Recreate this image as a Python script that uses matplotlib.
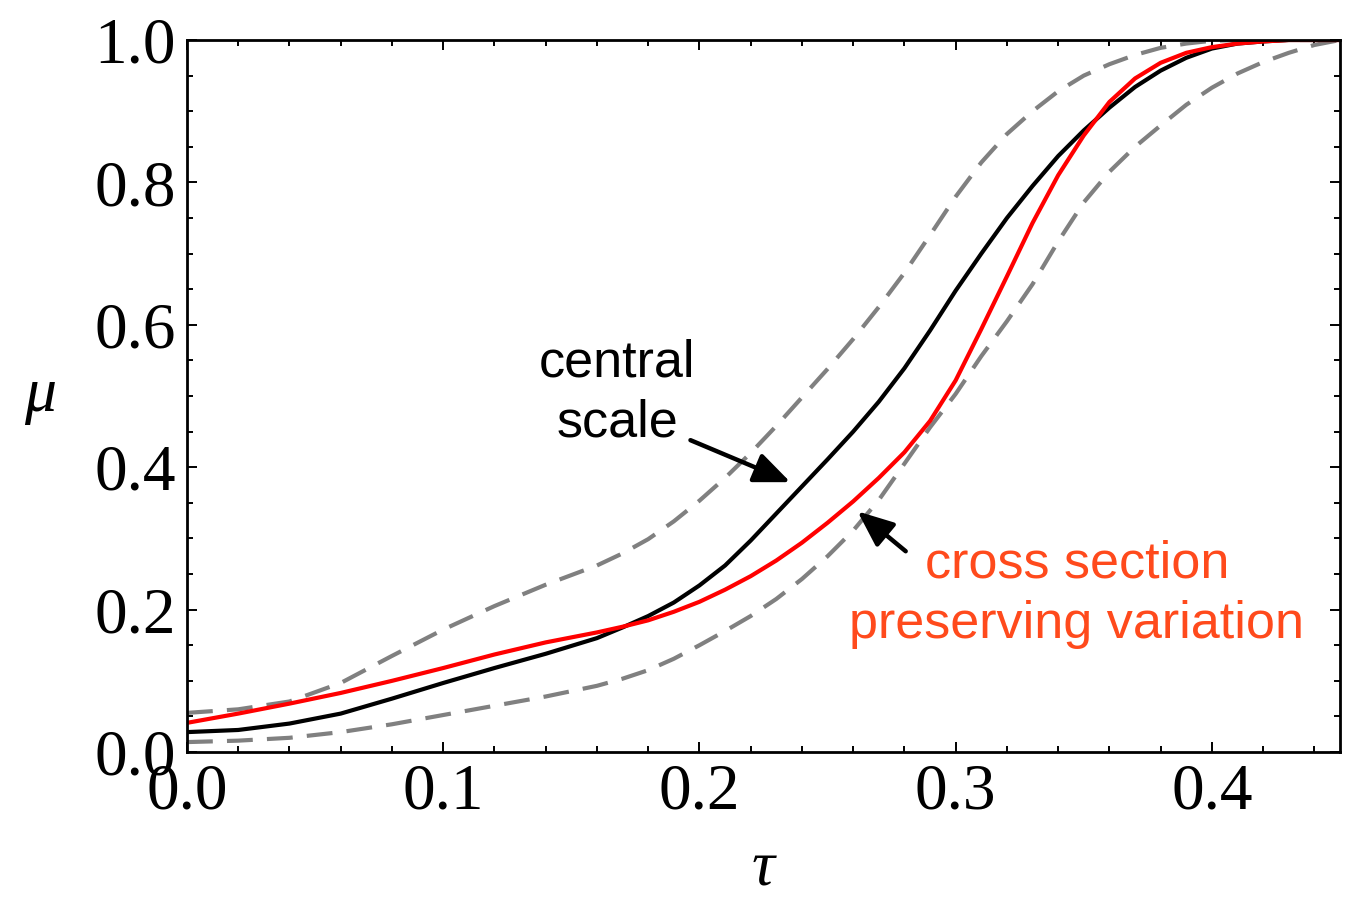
import matplotlib
matplotlib.use("Agg")
import matplotlib.pyplot as plt
from matplotlib.ticker import MultipleLocator

# curve samples mu(tau)
tau = [0.00, 0.02, 0.04, 0.06, 0.08, 0.10, 0.12, 0.14, 0.16, 0.17,
       0.18, 0.19, 0.20, 0.21, 0.22, 0.23, 0.24, 0.25, 0.26, 0.27,
       0.28, 0.29, 0.30, 0.31, 0.32, 0.33, 0.34, 0.35, 0.36, 0.37,
       0.38, 0.39, 0.40, 0.41, 0.42, 0.43, 0.44, 0.45]

mu_central = [0.028, 0.031, 0.040, 0.054, 0.075, 0.097, 0.118, 0.138, 0.160, 0.175,
              0.191, 0.210, 0.234, 0.262, 0.297, 0.335, 0.373, 0.411, 0.450, 0.492,
              0.539, 0.592, 0.648, 0.700, 0.750, 0.795, 0.837, 0.873, 0.905, 0.934,
              0.957, 0.975, 0.988, 0.995, 0.998, 1.000, 1.000, 1.000]

mu_xsec = [0.041, 0.054, 0.068, 0.083, 0.100, 0.118, 0.137, 0.154, 0.168, 0.176,
           0.185, 0.197, 0.211, 0.228, 0.247, 0.269, 0.294, 0.322, 0.352, 0.385,
           0.421, 0.465, 0.522, 0.594, 0.668, 0.743, 0.810, 0.866, 0.913, 0.946,
           0.968, 0.982, 0.990, 0.995, 0.998, 1.000, 1.000, 1.000]

mu_upper = [0.055, 0.060, 0.071, 0.097, 0.135, 0.172, 0.205, 0.235, 0.262, 0.279,
            0.299, 0.324, 0.353, 0.385, 0.420, 0.458, 0.498, 0.538, 0.580, 0.625,
            0.673, 0.726, 0.780, 0.828, 0.868, 0.900, 0.928, 0.950, 0.966, 0.979,
            0.989, 0.995, 0.999, 1.000, 1.000, 1.000, 1.000, 1.000]

mu_lower = [0.014, 0.016, 0.020, 0.028, 0.039, 0.052, 0.065, 0.078, 0.093, 0.103,
            0.115, 0.131, 0.150, 0.170, 0.191, 0.215, 0.243, 0.275, 0.311, 0.354,
            0.405, 0.456, 0.503, 0.556, 0.605, 0.657, 0.717, 0.772, 0.815, 0.850,
            0.880, 0.909, 0.933, 0.953, 0.969, 0.982, 0.993, 1.000]

serif = "Liberation Serif"
sans = "Liberation Sans"
orange = "#ff4a1c"

fig = plt.figure(figsize=(13.53, 8.97), dpi=100)
ax = fig.add_axes([0.1382, 0.1616, 0.8522, 0.7938])

gray_kw = dict(color="#808080", lw=3.0, dashes=(6.2, 3.4), dash_capstyle="butt")
ax.plot(tau, mu_upper, **gray_kw)
ax.plot(tau, mu_lower, **gray_kw)
ax.plot(tau, mu_central, color="black", lw=3.0, solid_joinstyle="round")
ax.plot(tau, mu_xsec, color="#ff0000", lw=3.0, solid_joinstyle="round")

ax.set_xlim(0, 0.45)
ax.set_ylim(0, 1.0)

# frame ticks on all sides, pointing in
ax.xaxis.set_major_locator(MultipleLocator(0.1))
ax.xaxis.set_minor_locator(MultipleLocator(0.02))
ax.yaxis.set_major_locator(MultipleLocator(0.2))
ax.yaxis.set_minor_locator(MultipleLocator(0.05))
ax.tick_params(which="both", direction="in", top=True, right=True, width=1.4)
ax.tick_params(which="major", length=7.5, pad=8, labelsize=47)
ax.tick_params(which="minor", length=4.5)
for lab in ax.get_xticklabels() + ax.get_yticklabels():
    lab.set_family(serif)
ax.xaxis.set_major_formatter(plt.FuncFormatter(lambda v, p: f"{v:.1f}"))
ax.yaxis.set_major_formatter(plt.FuncFormatter(lambda v, p: f"{v:.1f}"))
for s in ax.spines.values():
    s.set_linewidth(2.0)

ax.set_xlabel("τ", family=serif, style="italic", fontsize=46, va="center")
ax.set_ylabel("μ", family=serif, style="italic", fontsize=46, rotation=0,
              va="center", ha="center")
ax.xaxis.set_label_coords(0.5, -0.165)
ax.yaxis.set_label_coords(-0.1275, 0.5)

# labels with arrows
arrow = dict(arrowstyle="-|>,head_length=1.0,head_width=0.42",
             color="black", lw=3.2, mutation_scale=22, shrinkA=0, shrinkB=0)

ax.text(0.168, 0.504, "central\nscale", family=sans, fontsize=37.5,
        ha="center", va="center", linespacing=1.3)
ax.annotate("", xy=(0.2355, 0.379), xytext=(0.1965, 0.438), arrowprops=arrow)

ax.text(0.3473, 0.222, "cross section\npreserving variation", family=sans,
        fontsize=37.5, color=orange, ha="center", va="center", linespacing=1.3)
ax.annotate("", xy=(0.2617, 0.338), xytext=(0.2805, 0.282), arrowprops=arrow)

fig.savefig("out.png", dpi=100)
